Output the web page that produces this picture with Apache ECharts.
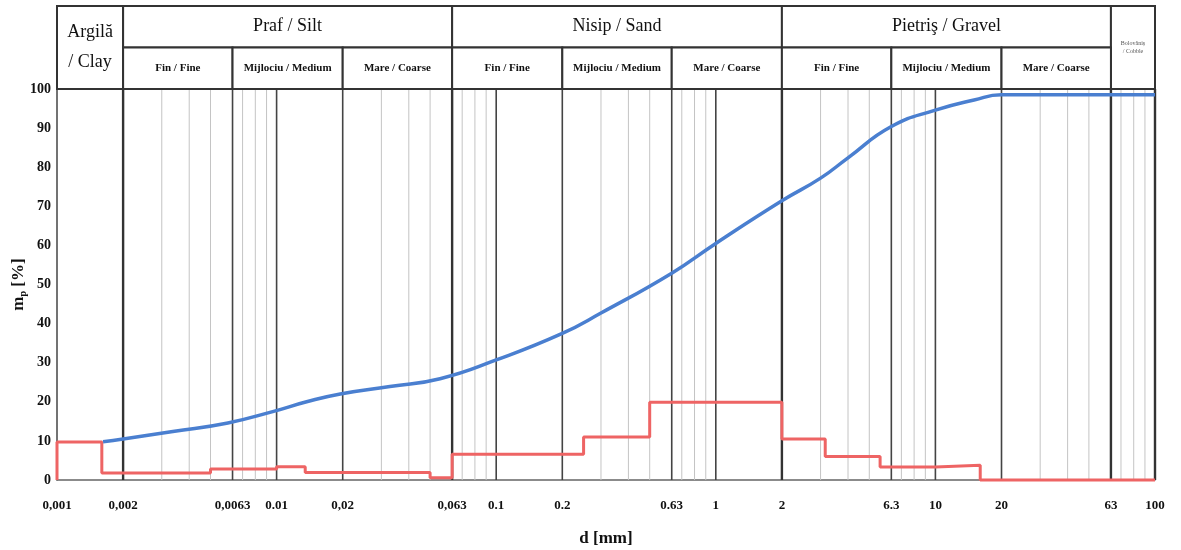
<!DOCTYPE html>
<html><head><meta charset="utf-8">
<script src="https://cdn.jsdelivr.net/npm/echarts@6/dist/echarts.min.js"></script>
<style>html,body{margin:0;padding:0;background:#fff}#c{width:1181px;height:550px}</style>
</head><body><div id="c"></div>
<script>
// ---- data ----
const xTickValues = [0.001,0.002,0.0063,0.01,0.02,0.063,0.1,0.2,0.63,1,2,6.3,10,20,63,100];
const xTickLabels = ['0,001','0,002','0,0063','0.01','0,02','0,063','0.1','0.2','0.63','1','2','6.3','10','20','63','100'];

const groupNames  = ['Argilă\n/ Clay','Praf / Silt','Nisip / Sand','Pietriş / Gravel','Bolovăniș\n/ Cobble'];
const groupBounds = [0.001,0.002,0.063,2,63,100];
const subNames    = ['Fin / Fine','Mijlociu / Medium','Mare / Coarse'];
const subBoundsSilt   = [0.002,0.0063,0.02,0.063];
const subBoundsSand   = [0.063,0.2,0.63,2];
const subBoundsGravel = [2,6.3,20,63];

const boundaryLines = [0.002,0.063,2,63,100];
const majorLines    = [0.0063,0.01,0.02,0.1,0.2,0.63,1,6.3,10,20];
const minorLines    = [0.003,0.004,0.005,0.007,0.008,0.009,
                       0.03,0.04,0.05,0.07,0.08,0.09,
                       0.3,0.4,0.5,0.7,0.8,0.9,
                       3,4,5,7,8,9,
                       30,40,50,70,80,90];

// cumulative passing curve
const passingSize = [0.00162,0.002,0.00337,0.006,0.0096,0.0137,0.0195,0.0328,0.0555,0.1,0.2,0.3,0.63,1,2,3,4,6.3,10,15,20,100];
const passingPct  = [9.8,10.5,12.4,14.6,17.5,20.0,22.0,23.9,25.9,30.7,37.5,42.7,52.9,60.5,71.4,77.2,82.4,90.4,94.6,97.2,98.5,98.5];

// fraction per size class (step line)
const fractionBounds = [0.001,0.0016,0.005,0.01,0.0135,0.05,0.063,0.25,0.5,2,3.15,5.6,10,16,100];
const fractionPct    = [9.7,1.8,2.8,3.4,1.9,0.6,6.6,11.0,19.9,10.5,6.0,3.3,3.8,0];

// ---- build ----
const SERIF = '"Liberation Serif","DejaVu Serif",serif';
const headerCells = [];
groupNames.forEach((n,i)=>{
  const full = (i===0 || i===groupNames.length-1);
  headerCells.push({v:[groupBounds[i],groupBounds[i+1],0,full?2:1], text:n,
    font: full && i>0 ? '6px '+SERIF : '18px '+SERIF, lh: i===0?30:(full?8:20), color: i===groupNames.length-1?'#555':'#111'});
});
[subBoundsSilt,subBoundsSand,subBoundsGravel].forEach(b=>{
  for(let k=0;k<3;k++) headerCells.push({v:[b[k],b[k+1],1,2], text:subNames[k], font:'bold 11px '+SERIF, lh:12, color:'#111'});
});

const stepPoints = [[fractionBounds[0],0]];
for(let i=0;i<fractionPct.length;i++){
  stepPoints.push([fractionBounds[i],fractionPct[i]]);
  stepPoints.push([fractionBounds[i+1],fractionPct[i]]);
}

function gridSeries(values,color,width){
  return {type:'custom', xAxisIndex:0, yAxisIndex:0, silent:true, z:1,
    data: values.map(v=>[v,50]),
    renderItem(params,api){
      const a = api.coord([api.value(0),0]), b = api.coord([api.value(0),100]);
      return {type:'line', shape:{x1:a[0],y1:a[1],x2:b[0],y2:b[1]}, style:{stroke:color,lineWidth:width}};
    }};
}

const chart = echarts.init(document.getElementById('c'));
chart.setOption({
  animation:false,
  backgroundColor:'#fff',
  grid:[
    {left:57,right:26,top:89,bottom:70,outerBoundsMode:'none',containLabel:false},
    {left:57,right:26,top:6,height:83,outerBoundsMode:'none',containLabel:false}
  ],
  xAxis:[
    {type:'log',logBase:10,min:0.001,max:100,gridIndex:0,
     axisLine:{show:true,lineStyle:{color:'#666',width:1.5}},axisTick:{show:false},
     axisLabel:{show:false},splitLine:{show:false},minorSplitLine:{show:false},
     name:'d [mm]',nameLocation:'middle',nameGap:50,
     nameTextStyle:{fontFamily:SERIF,fontWeight:'bold',fontSize:17,color:'#111'}},
    {type:'log',logBase:10,min:0.001,max:100,gridIndex:1,show:false}
  ],
  yAxis:[
    {type:'value',min:0,max:100,interval:10,gridIndex:0,
     axisLine:{show:true,lineStyle:{color:'#444',width:1.5}},axisTick:{show:false},
     splitLine:{show:false},
     axisLabel:{fontFamily:SERIF,fontWeight:'bold',fontSize:14,color:'#111',margin:6},
     name:'m{s|p} [%]',nameLocation:'middle',nameGap:29,nameMoveOverlap:false,
     nameTextStyle:{fontFamily:SERIF,fontWeight:'bold',fontSize:17,color:'#111',
       rich:{s:{fontFamily:SERIF,fontWeight:'bold',fontSize:10,verticalAlign:'bottom',padding:[8,0,0,0]}}}},
    {type:'value',min:0,max:2,inverse:true,gridIndex:1,show:false}
  ],
  series:[
    gridSeries(minorLines,'#c4c4c4',1),
    gridSeries(majorLines,'#444',1.6),
    gridSeries(boundaryLines,'#333',2.4),
    {type:'custom',xAxisIndex:1,yAxisIndex:1,silent:true,z:2,
     data: headerCells.map(c=>c.v),
     renderItem(params,api){
       const c = headerCells[params.dataIndex];
       const p0 = api.coord([api.value(0),api.value(2)]);
       const p1 = api.coord([api.value(1),api.value(3)]);
       return {type:'group',children:[
         {type:'rect',shape:{x:p0[0],y:p0[1],width:p1[0]-p0[0],height:p1[1]-p0[1]},
          style:{fill:'#fff',stroke:'#333',lineWidth:2}},
         {type:'text',style:{text:c.text,x:(p0[0]+p1[0])/2,y:(p0[1]+p1[1])/2,
          align:'center',verticalAlign:'middle',font:c.font,fill:c.color,lineHeight:c.lh}}
       ]};
     }},
    {type:'custom',xAxisIndex:0,yAxisIndex:0,silent:true,z:2,
     data: xTickValues.map(v=>[v,0]),
     renderItem(params,api){
       const p = api.coord([api.value(0),0]);
       return {type:'text',style:{text:xTickLabels[params.dataIndex],x:p[0],y:p[1]+26,
         align:'center',verticalAlign:'middle',font:'bold 13px '+SERIF,fill:'#111'}};
     }},
    {name:'fraction',type:'line',xAxisIndex:0,yAxisIndex:0,z:4,clip:false,
     data:stepPoints,showSymbol:false,symbol:'none',
     lineStyle:{color:'#ee6464',width:3}},
    {name:'passing',type:'line',xAxisIndex:0,yAxisIndex:0,z:5,
     data:passingSize.map((d,i)=>[d,passingPct[i]]),
     smooth:0.5,showSymbol:false,symbol:'none',
     lineStyle:{color:'#4a7fd0',width:3.5}}
  ]
});
</script></body></html>
